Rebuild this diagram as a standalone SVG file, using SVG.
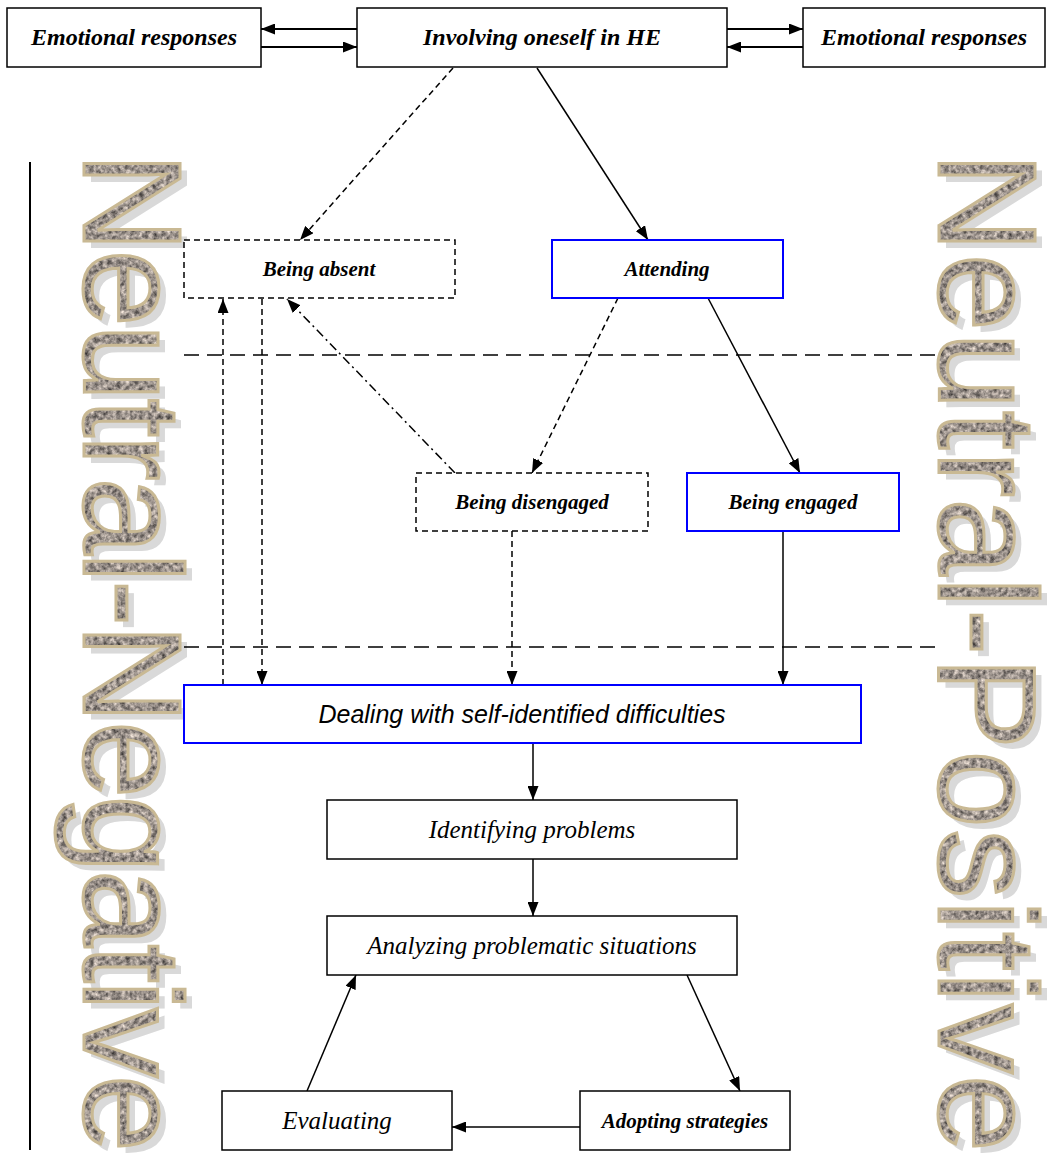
<svg xmlns="http://www.w3.org/2000/svg" width="1050" height="1165" viewBox="0 0 1050 1165">
<style>
.box{fill:#fff;stroke:#000;stroke-width:1.5}
.dbox{fill:#fff;stroke:#000;stroke-width:1.5;stroke-dasharray:6 4}
.bbox{fill:#fff;stroke:#0000ff;stroke-width:2}
.lbl{font-family:"Liberation Serif","Times New Roman",serif;font-size:21px;text-anchor:middle;fill:#000}
.top{font-size:24px}
.bi{font-weight:bold;font-style:italic}
.it{font-style:italic;font-size:25px}
.ar{font-family:"Liberation Sans",Arial,sans-serif;font-style:italic;font-size:25px;text-anchor:middle}
.c{fill:none;stroke:#000;stroke-width:1.5}
.t2{stroke-width:2}
.dash{stroke-dasharray:6 4}
.dd{stroke-dasharray:9 4 2 4}
.long{fill:none;stroke:#000;stroke-width:1.5;stroke-dasharray:15 8}
.big{font-family:"Liberation Sans",Arial,sans-serif;font-size:139px}
.wfill{fill:#948a84;filter:url(#granite)}
.wstroke{fill:none;stroke:#c9b994;stroke-width:3}
.wshadow{fill:#d9d9d9}
</style>
<defs>
<marker id="ah" viewBox="0 0 14 11" refX="14" refY="5.5" markerWidth="14" markerHeight="11" markerUnits="userSpaceOnUse" orient="auto">
<path d="M0,0 L14,5.5 L0,11 z" fill="#000"/>
</marker>
<filter id="granite" x="0" y="0" width="1" height="1" color-interpolation-filters="sRGB">
<feTurbulence type="fractalNoise" baseFrequency="0.22" numOctaves="3" seed="7" result="n"/>
<feColorMatrix in="n" type="matrix" values="0.95 0 0 0 0.13  0.9 0 0 0 0.12  0.85 0 0 0 0.12  0 0 0 0 1" result="c"/>
<feComposite in="c" in2="SourceAlpha" operator="in"/>
</filter>
</defs>

<g id="side-left">
<line x1="30" y1="162" x2="30" y2="1150" stroke="#000" stroke-width="2"/>
<g transform="translate(84,152) rotate(90)">
<text class="big wshadow" x="7" y="-7" textLength="1000" lengthAdjust="spacing">Neutral-Negative</text>
<text class="big wfill" x="0" y="0" textLength="1000" lengthAdjust="spacing">Neutral-Negative</text>
<text class="big wstroke" x="0" y="0" textLength="1000" lengthAdjust="spacing">Neutral-Negative</text>
</g>
</g>
<g id="side-right">
<g transform="translate(939,152) rotate(90)">
<text class="big wshadow" x="7" y="-7" textLength="1000" lengthAdjust="spacing">Neutral-Positive</text>
<text class="big wfill" x="0" y="0" textLength="1000" lengthAdjust="spacing">Neutral-Positive</text>
<text class="big wstroke" x="0" y="0" textLength="1000" lengthAdjust="spacing">Neutral-Positive</text>
</g>
</g>

<g id="bands">
<line class="long" x1="184" y1="355" x2="940" y2="355"/>
<line class="long" x1="184" y1="647" x2="940" y2="647"/>
</g>

<g id="connectors">
<line class="c t2" x1="357" y1="29" x2="261" y2="29" marker-end="url(#ah)"/>
<line class="c t2" x1="261" y1="47" x2="357" y2="47" marker-end="url(#ah)"/>
<line class="c t2" x1="727" y1="29" x2="803" y2="29" marker-end="url(#ah)"/>
<line class="c t2" x1="803" y1="47" x2="727" y2="47" marker-end="url(#ah)"/>
<line class="c dash" x1="453" y1="68" x2="300" y2="240" marker-end="url(#ah)"/>
<line class="c" x1="537" y1="68" x2="648" y2="240" marker-end="url(#ah)"/>
<line class="c dash" x1="618" y1="298" x2="532" y2="473" marker-end="url(#ah)"/>
<line class="c" x1="708" y1="298" x2="800" y2="473" marker-end="url(#ah)"/>
<line class="c dd" x1="455" y1="473" x2="287" y2="299" marker-end="url(#ah)"/>
<line class="c dash" x1="262" y1="299" x2="262" y2="685" marker-end="url(#ah)"/>
<line class="c dash" x1="223" y1="685" x2="223" y2="299" marker-end="url(#ah)"/>
<line class="c dash" x1="512" y1="531" x2="512" y2="685" marker-end="url(#ah)"/>
<line class="c" x1="783" y1="531" x2="783" y2="685" marker-end="url(#ah)"/>
<line class="c" x1="533" y1="743" x2="533" y2="800" marker-end="url(#ah)"/>
<line class="c" x1="533" y1="859" x2="533" y2="916" marker-end="url(#ah)"/>
<line class="c" x1="687" y1="975" x2="740" y2="1091" marker-end="url(#ah)"/>
<line class="c" x1="580" y1="1127" x2="452" y2="1127" marker-end="url(#ah)"/>
<line class="c" x1="307" y1="1091" x2="356" y2="975" marker-end="url(#ah)"/>
</g>

<g id="n-emo-left"><rect class="box" x="7" y="8" width="254" height="59"/><text class="lbl bi top" x="134" y="45">Emotional responses</text></g>
<g id="n-involving"><rect class="box" x="357" y="8" width="370" height="59"/><text class="lbl bi top" x="542" y="45">Involving oneself in HE</text></g>
<g id="n-emo-right"><rect class="box" x="803" y="8" width="242" height="59"/><text class="lbl bi top" x="924" y="45">Emotional responses</text></g>
<g id="n-absent"><rect class="dbox" x="184" y="240" width="271" height="58"/><text class="lbl bi" x="319" y="276">Being absent</text></g>
<g id="n-attending"><rect class="bbox" x="552" y="240" width="231" height="58"/><text class="lbl bi" x="667" y="276">Attending</text></g>
<g id="n-disengaged"><rect class="dbox" x="416" y="473" width="232" height="58"/><text class="lbl bi" x="532" y="509">Being disengaged</text></g>
<g id="n-engaged"><rect class="bbox" x="687" y="473" width="212" height="58"/><text class="lbl bi" x="793" y="509">Being engaged</text></g>
<g id="n-dealing"><rect class="bbox" x="184" y="685" width="677" height="58"/><text class="ar" x="522" y="723">Dealing with self-identified difficulties</text></g>
<g id="n-identifying"><rect class="box" x="327" y="800" width="410" height="59"/><text class="lbl it" x="532" y="838">Identifying problems</text></g>
<g id="n-analyzing"><rect class="box" x="327" y="916" width="410" height="59"/><text class="lbl it" x="532" y="954">Analyzing problematic situations</text></g>
<g id="n-evaluating"><rect class="box" x="222" y="1091" width="230" height="59"/><text class="lbl it" x="337" y="1129">Evaluating</text></g>
<g id="n-adopting"><rect class="box" x="580" y="1091" width="210" height="59"/><text class="lbl bi" x="685" y="1128">Adopting strategies</text></g>
</svg>
